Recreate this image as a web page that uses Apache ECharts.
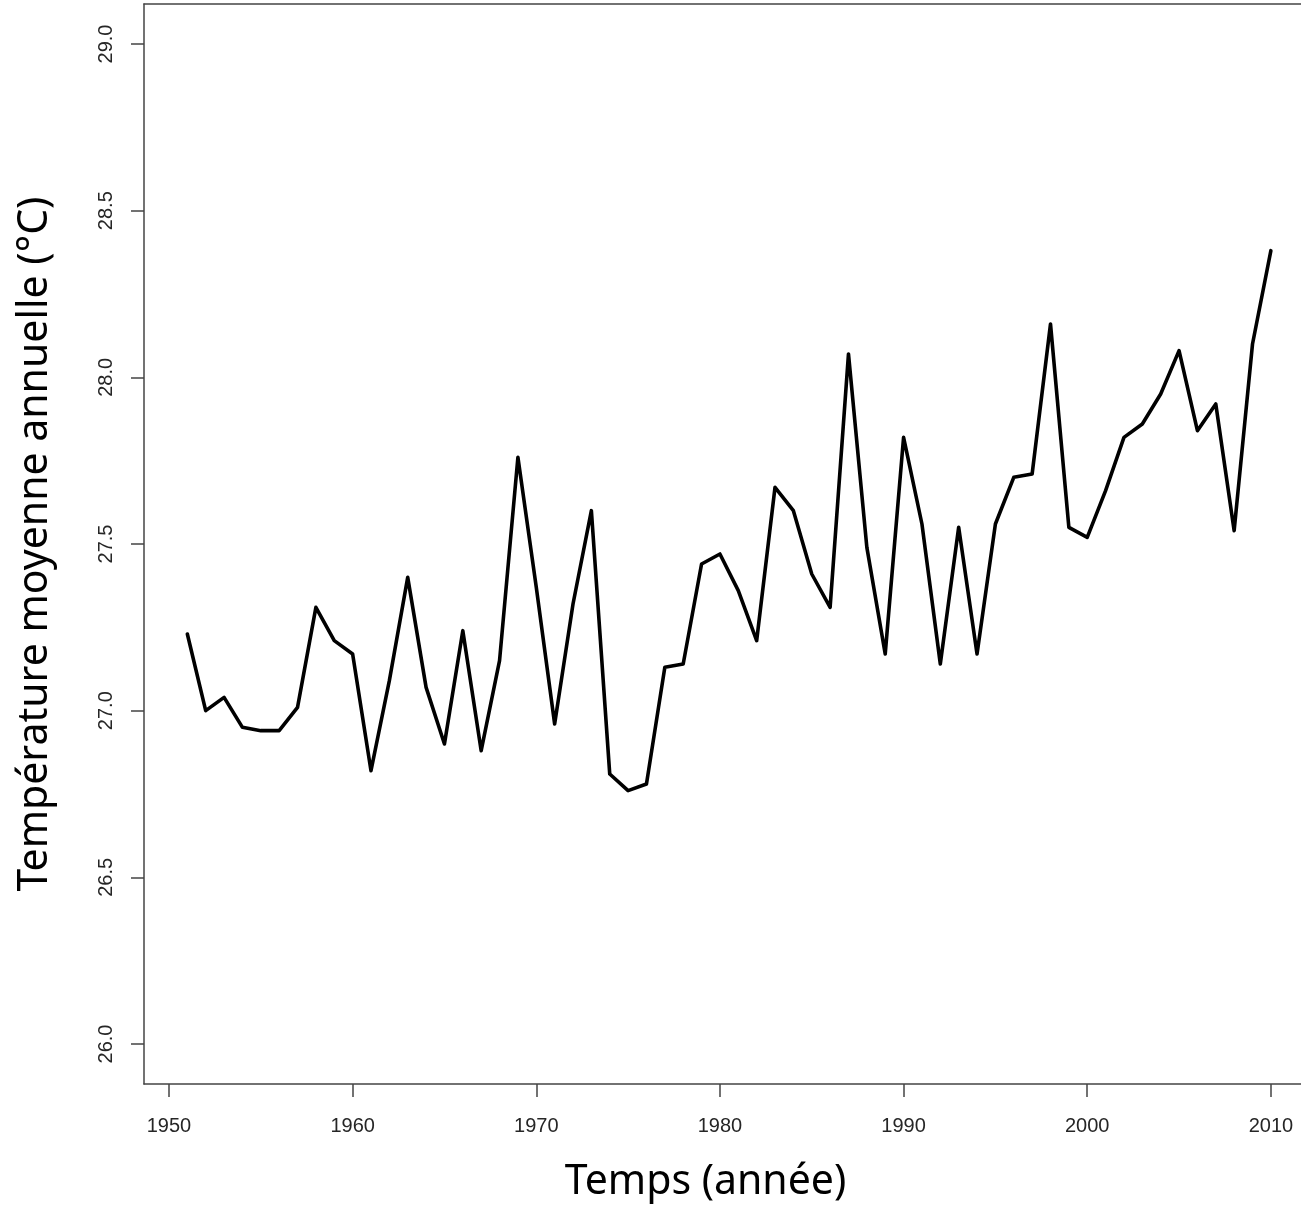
<!DOCTYPE html>
<html>
<head>
<meta charset="utf-8">
<script src="https://cdn.jsdelivr.net/npm/echarts@6/dist/echarts.min.js"></script>
<style>
html,body{margin:0;padding:0;background:#fff;}
#chart{width:1301px;height:1209px;}
</style>
</head>
<body>
<div id="chart"></div>
<script>
const years = [1951,1952,1953,1954,1955,1956,1957,1958,1959,1960,
  1961,1962,1963,1964,1965,1966,1967,1968,1969,1970,
  1971,1972,1973,1974,1975,1976,1977,1978,1979,1980,
  1981,1982,1983,1984,1985,1986,1987,1988,1989,1990,
  1991,1992,1993,1994,1995,1996,1997,1998,1999,2000,
  2001,2002,2003,2004,2005,2006,2007,2008,2009,2010];
const temps = [27.23,27.00,27.04,26.95,26.94,26.94,27.01,27.31,27.21,27.17,
  26.82,27.09,27.40,27.07,26.90,27.24,26.88,27.15,27.76,27.37,
  26.96,27.32,27.60,26.81,26.76,26.78,27.13,27.14,27.44,27.47,
  27.36,27.21,27.67,27.60,27.41,27.31,28.07,27.49,27.17,27.82,
  27.56,27.14,27.55,27.17,27.56,27.70,27.71,28.16,27.55,27.52,
  27.66,27.82,27.86,27.95,28.08,27.84,27.92,27.54,28.10,28.38];
const xTicks = [1950,1960,1970,1980,1990,2000,2010];
const yTicks = [26.0,26.5,27.0,27.5,28.0,28.5,29.0];
const xTitle = 'Temps (année)';
const yTitle = 'Température moyenne annuelle (°C)';

const chart = echarts.init(document.getElementById('chart'), null, {renderer:'canvas'});
const axisColor = '#444';
const xMin = 1948.64, xMax = 2011.64;
chart.setOption({
  animation:false,
  backgroundColor:'#fff',
  grid:{left:144,top:4,right:0,height:1080,show:false},
  xAxis:[{
    type:'value', min:xMin, max:xMax,
    name:xTitle, nameLocation:'middle', nameGap:78,
    nameTextStyle:{fontFamily:'Noto Sans',fontSize:41,color:'#000',padding:[0,34,0,0]},
    axisLine:{show:true,onZero:false,lineStyle:{color:axisColor,width:1.5}},
    axisTick:{show:true,inside:false,length:13,customValues:xTicks,lineStyle:{color:axisColor,width:1.5}},
    axisLabel:{customValues:xTicks,margin:32,fontFamily:'Liberation Sans',fontSize:20,color:'#262626',formatter:v=>String(v)},
    splitLine:{show:false}
  },{
    type:'value', min:xMin, max:xMax, position:'top',
    axisLine:{show:true,onZero:false,lineStyle:{color:axisColor,width:1.5}},
    axisTick:{show:false}, axisLabel:{show:false}, splitLine:{show:false}
  }],
  yAxis:{
    type:'value', min:25.88, max:29.12,
    name:yTitle, nameLocation:'middle', nameGap:88, nameRotate:90,
    nameTextStyle:{fontFamily:'Noto Sans',fontSize:41,color:'#000'},
    axisLine:{show:true,onZero:false,lineStyle:{color:axisColor,width:1.5}},
    axisTick:{show:true,inside:false,length:13,customValues:yTicks,lineStyle:{color:axisColor,width:1.5}},
    axisLabel:{customValues:yTicks,rotate:90,margin:28,fontFamily:'Liberation Sans',fontSize:20,color:'#262626',formatter:v=>v.toFixed(1)},
    splitLine:{show:false}
  },
  series:[{
    type:'line',
    xAxisIndex:0,
    data:years.map((y,i)=>[y,temps[i]]),
    showSymbol:false,
    lineStyle:{color:'#000',width:3.6,join:'round',cap:'round'},
    itemStyle:{color:'#000'},
    clip:false
  }]
});
</script>
</body>
</html>
